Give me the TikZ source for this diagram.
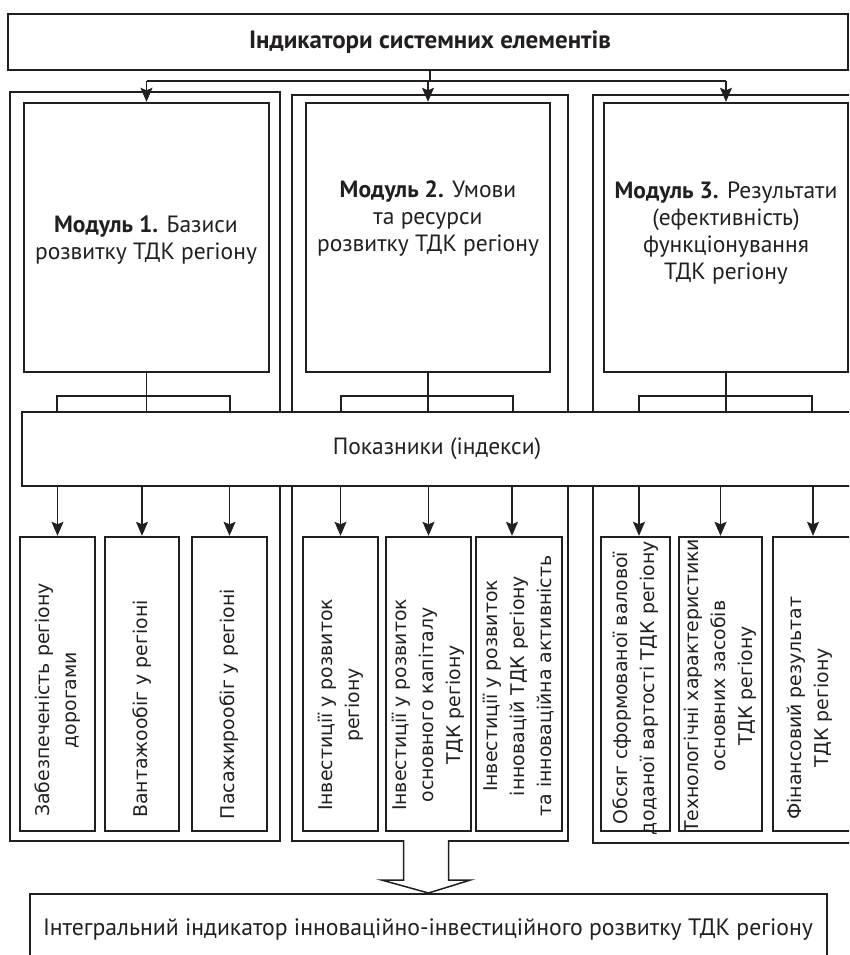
\documentclass[tikz,border=0pt]{standalone}
\usepackage{fontspec}
\setmainfont{PT Sans}
\newfontfamily\vfont{DejaVu Sans}
\usetikzlibrary{arrows.meta,calc,fit}
\definecolor{ink}{RGB}{35,31,32}
\begin{document}
\begin{tikzpicture}[x=1pt,y=-1pt,
  every node/.style={text=ink},
  heavybox/.style={draw=ink,line width=2.4pt,fill=white,inner sep=0pt},
  grpframe/.style={draw=ink,line width=2pt,inner sep=0pt},
  conn/.style={draw=ink,line width=1.1pt},
  arr/.style={conn,-{Stealth[length=14pt,width=12pt,inset=2.5pt]}},
  htext/.style={font=\fontsize{23.5}{27}\selectfont,align=center,inner sep=0pt},
  vtext/.style={font=\vfont\fontsize{18.9}{27}\selectfont,align=center,rotate=90,inner sep=0pt}]
\useasboundingbox (0,0) rectangle (849,955);
\begin{scope}
\clip (0,0) rectangle (849,955);
\fill[white] (0,0) rectangle (849,955);
% top box
\node[heavybox,fit={(8,14)(848,70)}] (top) {};
\node[inner sep=0pt,font=\bfseries\fontsize{25}{27}\selectfont] (toptxt) at (430,42) {Індикатори системних елементів};
% group frames
\node[grpframe,fit={(10,92)(280,841)}] (G1) {};
\node[grpframe,fit={(292,95)(568,841)}] (G2) {};
\node[grpframe,fit={(593,95)(880,843)}] (G3) {};
% modules
\node[heavybox,fit={(24,103)(269,372)}] (M1) {};
\node[heavybox,fit={(306,103)(550,372)}] (M2) {};
\node[heavybox,fit={(604,103)(848,372)}] (M3) {};
\node[htext] (M1t) at (146,240) {\textbf{Модуль 1.} Базиси\\розвитку ТДК регіону};
\node[htext] (M2t) at (428,219) {\textbf{Модуль 2.} Умови\\та ресурси\\розвитку ТДК регіону};
\node[htext] (M3t) at (726,233) {\textbf{Модуль 3.} Результати\\(ефективність)\\функціонування\\ТДК регіону};
% top connectors
\coordinate (hub) at (430,81);
\draw[conn] (top.south -| hub) -- (hub);
\draw[conn] (M1.north |- hub) -- (M3.north |- hub);
\draw[arr] (M1.north |- hub) -- (M1.north);
\draw[arr] (M2.north |- hub) -- (M2.north);
\draw[arr] (M3.north |- hub) -- (M3.north);
% small boxes
\node[heavybox,fit={(20,537)(95,831)}] (B1) {};
\node[heavybox,fit={(105,537)(179,831)}] (B2) {};
\node[heavybox,fit={(192,537)(267,831)}] (B3) {};
\node[heavybox,fit={(303,537)(378,831)}] (B4) {};
\node[heavybox,fit={(386,537)(471,831)}] (B5) {};
\node[heavybox,fit={(476,537)(562,831)}] (B6) {};
\node[heavybox,fit={(601,537)(670,831)}] (B7) {};
\node[heavybox,fit={(679,537)(762,831)}] (B8) {};
\node[heavybox,fit={(773,537)(856,831)}] (B9) {};
% indicators box
\node[heavybox,fit={(22,412)(880,486)}] (P) {};
\node[htext] (Pt) at (437,449) {Показники (індекси)};
% brackets under modules
\coordinate (k1) at (57,396);  \coordinate (k2) at (230,396);
\coordinate (k3) at (341,396); \coordinate (k4) at (513,396);
\coordinate (k5) at (639,396); \coordinate (k6) at (812,396);
\draw[conn] (M1.south) -- (M1.south |- P.north);
\draw[conn] (M2.south) -- (M2.south |- P.north);
\draw[conn] (M3.south) -- (M3.south |- P.north);
\draw[conn] (k1 |- P.north) -- (k1) -- (k2) -- (k2 |- P.north);
\draw[conn] (k3 |- P.north) -- (k3) -- (k4) -- (k4 |- P.north);
\draw[conn] (k5 |- P.north) -- (k5) -- (k6) -- (k6 |- P.north);
% arrows to small boxes
\draw[arr] (P.south -| B1.north) -- (B1.north);
\draw[arr] (P.south -| B2.north) -- (B2.north);
\draw[arr] (P.south -| B3.north) -- (B3.north);
\draw[arr] (P.south -| B4.north) -- (B4.north);
\draw[arr] (P.south -| B5.north) -- (B5.north);
\coordinate (a6) at (512,0); \coordinate (a7) at (639,0); \coordinate (a9) at (813,0);
\draw[arr] (P.south -| a6) -- (B6.north -| a6);
\draw[arr] (P.south -| a7) -- (B7.north -| a7);
\draw[arr] (P.south -| B8.north) -- (B8.north);
\draw[arr] (P.south -| a9) -- (B9.north -| a9);
% vertical texts
\node[vtext] (T1) at (57.5,700) {Забезпеченість регіону\\дорогами};
\node[vtext] (T2) at (142,709) {Вантажообіг у регіоні};
\node[vtext] (T3) at (229.5,704) {Пасажирообіг у регіоні};
\node[vtext] (T4) at (340.5,705) {Інвестиції у розвиток\\регіону};
\node[vtext] (T5) at (428.5,705) {Інвестиції у розвиток\\основного капіталу\\ТДК регіону};
\node[vtext] (T6) at (519,686) {Інвестиції у розвиток\\інновацій ТДК регіону\\та інноваційна активність};
\node[vtext] (T7) at (635.5,688) {Обсяг сформованої валової\\доданої вартості ТДК регіону};
\node[vtext] (T8) at (720.5,686) {Технологічні характеристики\\основних засобів\\ТДК регіону};
\node[vtext] (T9) at (810,708) {Фінансовий результат\\ТДК регіону};
% bottom box and block arrow
\node[draw=ink,line width=2pt,inner sep=0pt,fit={(30,894)(827,1000)}] (Bot) {};
\node[inner sep=0pt,font=\fontsize{23.7}{27}\selectfont] (Bott) at (428,930) {Інтегральний індикатор інноваційно-інвестиційного розвитку ТДК регіону};
\draw[draw=ink,line width=1.5pt,fill=white,line join=miter]
  ($(Bot.north)+(-25,-53)$) -- ($(Bot.north)+(-25,-13)$) -- ($(Bot.north)+(-47,-13)$)
  -- (Bot.north) -- ($(Bot.north)+(42,-13)$) -- ($(Bot.north)+(20,-13)$) -- ($(Bot.north)+(20,-53)$);
\end{scope}
\end{tikzpicture}
\end{document}
